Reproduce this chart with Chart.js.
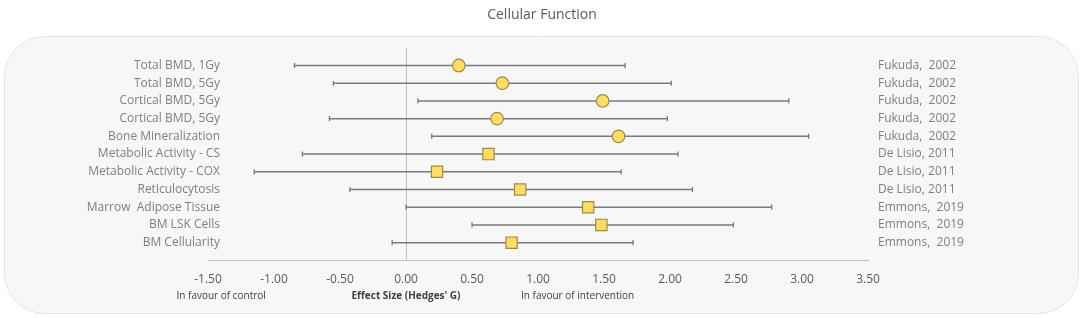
<!DOCTYPE html>
<html>
<head>
<meta charset="utf-8">
<script src="https://cdn.jsdelivr.net/npm/chart.js@4.4.1/dist/chart.umd.min.js"></script>
<style>
  html, body { margin: 0; padding: 0; background: #ffffff; }
  #wrap { width: 1084px; height: 318px; }
</style>
</head>
<body>
<div id="wrap"><canvas id="forest"></canvas></div>
<script>
// ── DATA ──
const outcomes = [
  'Total BMD, 1Gy', 'Total BMD, 5Gy', 'Cortical BMD, 5Gy', 'Cortical BMD, 5Gy',
  'Bone Mineralization', 'Metabolic Activity - CS', 'Metabolic Activity - COX',
  'Reticulocytosis', 'Marrow  Adipose Tissue', 'BM LSK Cells', 'BM Cellularity'
];
const studies = [
  'Fukuda,  2002', 'Fukuda,  2002', 'Fukuda,  2002', 'Fukuda,  2002', 'Fukuda,  2002',
  'De Lisio, 2011', 'De Lisio, 2011', 'De Lisio, 2011',
  'Emmons,  2019', 'Emmons,  2019', 'Emmons,  2019'
];
const effect = [0.40, 0.73, 1.49, 0.69, 1.61, 0.625, 0.235, 0.865, 1.38, 1.48, 0.80];
const lower  = [-0.845, -0.55, 0.09, -0.58, 0.195, -0.785, -1.15, -0.425, 0.0, 0.50, -0.105];
const upper  = [1.66, 2.01, 2.90, 1.98, 3.05, 2.06, 1.63, 2.17, 2.77, 2.48, 1.72];
const markerShape = ['circle', 'circle', 'circle', 'circle', 'circle',
  'rect', 'rect', 'rect', 'rect', 'rect', 'rect'];

const xTickValues = [-1.5, -1.0, -0.5, 0, 0.5, 1.0, 1.5, 2.0, 2.5, 3.0, 3.5];
const axisNotes = [
  { at: -1.40, text: 'In favour of control', bold: false },
  { at: 0.0,   text: "Effect Size (Hedges' G)", bold: true },
  { at: 1.30,  text: 'In favour of intervention', bold: false },
];

// ── STYLE ──
const FONT = "'Open Sans', 'DejaVu Sans', sans-serif";
const C = {
  label: '#7f7f7f',
  tick:  '#595959',
  note:  '#404040',
  line:  '#bfbfbf',
  whisk: '#7a7a7a',
  fill:  '#ffdd63',
  edge:  '#9c8a4c',
  panel: '#f7f7f7',
  panelEdge: '#e4e4e4',
};

// ── PANEL, OUTCOME LABELS + AXIS NOTES ──
// outcome labels overhang the plot area a little, so they are drawn here
const panelPlugin = {
  id: 'panelPlugin',
  beforeDraw(chart) {
    const { ctx } = chart;
    ctx.save();
    ctx.beginPath();
    ctx.roundRect(4.5, 36.5, 1074, 277, 40);
    ctx.fillStyle = C.panel;
    ctx.fill();
    ctx.strokeStyle = C.panelEdge;
    ctx.lineWidth = 1;
    ctx.stroke();
    ctx.restore();
  },
  afterDraw(chart) {
    const { ctx, chartArea, scales: { x, y } } = chart;
    ctx.save();
    ctx.fillStyle = C.label;
    ctx.textAlign = 'right';
    ctx.textBaseline = 'middle';
    ctx.font = `12px ${FONT}`;
    outcomes.forEach((t, i) => {
      ctx.fillText(t, chartArea.left + 12, y.getPixelForValue(i));
    });

    ctx.fillStyle = C.note;
    ctx.textAlign = 'center';
    axisNotes.forEach(n => {
      ctx.font = `${n.bold ? 'bold ' : ''}10px ${FONT}`;
      ctx.fillText(n.text, x.getPixelForValue(n.at), 296);
    });
    ctx.restore();
  }
};

// ── DATASETS ──
const rows = outcomes.map((_, i) => i);

const whiskers = rows.map(i => ({
  type: 'scatter',
  data: [{ x: lower[i], y: i }, { x: upper[i], y: i }],
  showLine: true,
  borderColor: C.whisk,
  borderWidth: 1.5,
  pointStyle: 'line',
  pointRotation: 90,
  pointRadius: 2.6,
  pointBorderWidth: 1.3,
  pointBorderColor: C.whisk,
  order: 2,
}));

const markers = {
  type: 'scatter',
  data: rows.map(i => ({ x: effect[i], y: i })),
  pointStyle: markerShape,
  pointRadius: markerShape.map(s => s === 'rect' ? 8 : 6.3),
  pointBackgroundColor: C.fill,
  pointBorderColor: C.edge,
  pointBorderWidth: 1.2,
  order: 1,
};

const rowTicks = scale => { scale.ticks = rows.map(v => ({ value: v })); };

new Chart(document.getElementById('forest'), {
  type: 'scatter',
  data: { datasets: [markers, ...whiskers] },
  options: {
    responsive: true,
    maintainAspectRatio: false,
    animation: false,
    layout: { padding: 0 },
    plugins: {
      legend: { display: false },
      tooltip: { enabled: false },
      title: {
        display: true,
        text: 'Cellular Function',
        color: C.tick,
        font: { family: FONT, size: 14, weight: 'normal' },
        padding: { top: 7, bottom: 24 }
      }
    },
    scales: {
      x: {
        type: 'linear',
        min: -1.5,
        max: 3.5,
        afterBuildTicks: s => { s.ticks = xTickValues.map(v => ({ value: v })); },
        afterFit: s => { s.height = 58; },
        ticks: {
          color: C.tick,
          font: { family: FONT, size: 12 },
          padding: 12,
          callback: v => v.toFixed(2)
        },
        grid: {
          drawTicks: false,
          color: c => (c.tick && c.tick.value === 0) ? C.line : 'rgba(0,0,0,0)',
          lineWidth: 1
        },
        border: { color: C.line, width: 1 }
      },
      y: {
        type: 'linear',
        position: 'left',
        reverse: true,
        min: -1.0,
        max: 10.98,
        afterBuildTicks: rowTicks,
        afterFit: s => { s.width = 208; },
        ticks: { display: false },
        grid: { display: false, drawTicks: false },
        border: { display: false }
      },
      y2: {
        type: 'linear',
        position: 'right',
        reverse: true,
        min: -1.0,
        max: 10.98,
        afterBuildTicks: rowTicks,
        afterFit: s => { s.width = 216; },
        ticks: {
          color: C.label,
          font: { family: FONT, size: 12 },
          padding: 10,
          callback: v => studies[v]
        },
        grid: { display: false, drawTicks: false },
        border: { display: false }
      }
    }
  },
  plugins: [panelPlugin]
});
</script>
</body>
</html>
